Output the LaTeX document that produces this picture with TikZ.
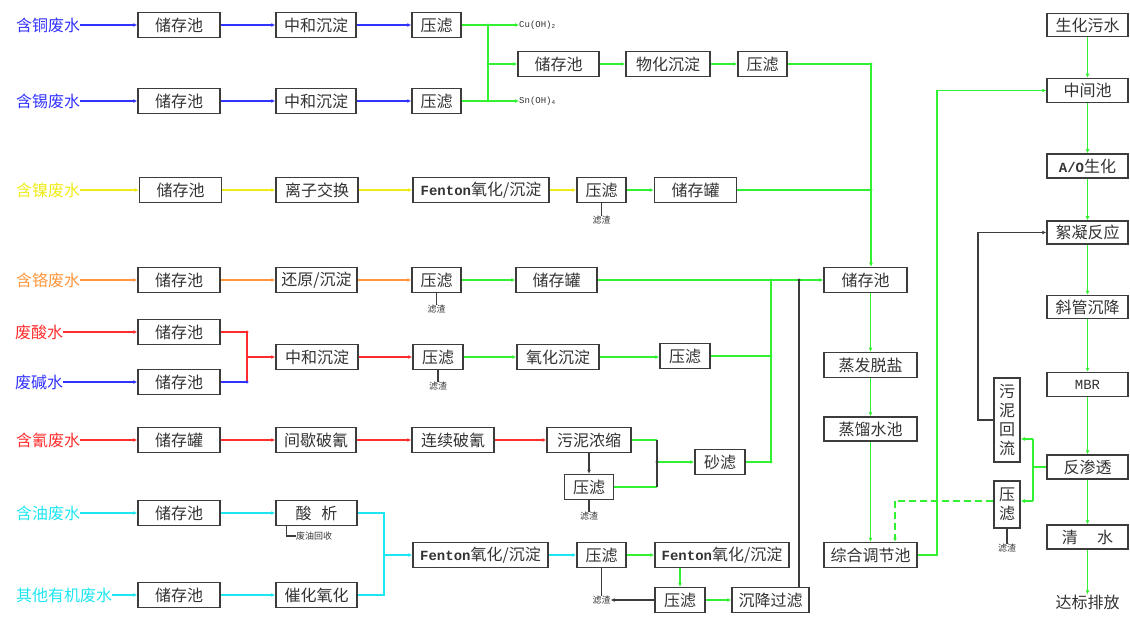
\documentclass[tikz,border=0pt]{standalone}
\usepackage{fontspec}
\setmainfont{Noto Sans CJK SC}
\newfontfamily\monof{Liberation Mono}
\usetikzlibrary{arrows.meta}
\definecolor{cblue}{RGB}{50,50,255}
\definecolor{cyel}{RGB}{240,235,20}
\definecolor{cora}{RGB}{255,150,60}
\definecolor{cred}{RGB}{255,45,45}
\definecolor{ccyan}{RGB}{30,230,240}
\definecolor{cgreen}{RGB}{50,240,50}
\definecolor{cdark}{RGB}{60,60,60}
\begin{document}
\begin{tikzpicture}[x=1pt,y=-1pt,
  box/.style={draw=cdark, line width=1.5pt, fill=white, inner sep=0pt, minimum height=25pt, text=black!80, font=\fontsize{16}{18}\selectfont},
  lbl/.style={anchor=west, inner sep=0pt, font=\fontsize{16}{18}\selectfont},
  tiny/.style={inner sep=0pt, font=\fontsize{9}{10}\selectfont, text=black!80},
  ln/.style={line width=1.4pt},
  arr/.style={ln, -{Latex[length=4pt,width=4pt]}},
  kl/.style={ln, draw=cdark},
  dot/.style={circle, inner sep=0pt, minimum size=3pt}]
\useasboundingbox (0,0) rectangle (1130,620);

% ---------- row 1 and 2 ----------
\node[lbl, text=cblue] (L1) at (16,25) {含铜废水};
\node[box, minimum width=82pt] (A1) at (179,25) {储存池};
\node[box, minimum width=80pt] (B1) at (316,25) {中和沉淀};
\node[box, minimum width=49pt] (C1) at (436.5,25) {压滤};
\node[tiny, anchor=west] (Cu) at (519,25) {\monof Cu(OH)\textsubscript{2}};
\node[lbl, text=cblue] (L2) at (16,101) {含锡废水};
\node[box, minimum width=82pt] (A2) at (179,101) {储存池};
\node[box, minimum width=80pt] (B2) at (316,101) {中和沉淀};
\node[box, minimum width=49pt] (C2) at (436.5,101) {压滤};
\node[tiny, anchor=west] (Sn) at (519,101) {\monof Sn(OH)\textsubscript{4}};
\coordinate (J1) at (488,25);
\coordinate (J2) at (488,101);
\coordinate (J3) at (488,64);
\node[box, minimum width=81pt] (D1) at (558.5,64) {储存池};
\node[box, minimum width=84pt] (E1) at (668,64) {物化沉淀};
\node[box, minimum width=49pt] (F1) at (762.5,64) {压滤};
\coordinate (K1) at (871,64);

\draw[arr, cblue] (L1) -- (A1);
\draw[arr, cblue] (A1) -- (B1);
\draw[arr, cblue] (B1) -- (C1);
\draw[arr, cblue] (L2) -- (A2);
\draw[arr, cblue] (A2) -- (B2);
\draw[arr, cblue] (B2) -- (C2);
\draw[ln, cgreen] (C1.east) -- (J1) -- (J2);
\draw[ln, cgreen] (C2.east) -- (J2);
\draw[arr, cgreen] (J1) -- (Cu.west);
\draw[arr, cgreen] (J2) -- (Sn.west);
\draw[arr, cgreen] (J3) -- (D1.west);
\draw[arr, cgreen] (D1) -- (E1);
\draw[arr, cgreen] (E1) -- (F1);
\draw[ln, cgreen] (F1.east) -- (K1);

% ---------- row 3 ----------
\node[lbl, text=cyel] (L3) at (16,190) {含镍废水};
\node[box, minimum width=82pt] (A3) at (180.5,190) {储存池};
\node[box, minimum width=82pt] (B3) at (317,190) {离子交换};
\node[box, minimum width=136pt] (C3) at (481,190) {{\monof\bfseries\fontsize{14}{16}\selectfont Fenton}氧化/沉淀};
\node[box, minimum width=49pt] (D3) at (601.5,190) {压滤};
\node[box, minimum width=82pt] (E3) at (695.5,190) {储存罐};
\node[tiny] (Z3) at (601.5,220) {滤渣};
\coordinate (K2) at (871,190);
\draw[arr, cyel] (L3) -- (A3);
\draw[arr, cyel] (A3) -- (B3);
\draw[arr, cyel] (B3) -- (C3);
\draw[arr, cyel] (C3) -- (D3);
\draw[arr, cgreen] (D3) -- (E3);
\draw[ln, cgreen] (E3.east) -- (K2);
\draw[kl] (D3.south) -- (Z3.north);

% ---------- row 4 ----------
\node[lbl, text=cora] (L4) at (16,280) {含铬废水};
\node[box, minimum width=82pt] (A4) at (179,280) {储存池};
\node[box, minimum width=81pt] (B4) at (316.5,280) {还原/沉淀};
\node[box, minimum width=49pt] (C4) at (436.5,280) {压滤};
\node[box, minimum width=81pt] (D4) at (556.5,280) {储存罐};
\node[tiny] (Z4) at (436.5,309) {滤渣};
\node[box, minimum width=83pt] (M1) at (865.5,280) {储存池};
\coordinate (K3) at (771,280);
\coordinate (K4) at (799,280);
\draw[arr, cora] (L4) -- (A4);
\draw[arr, cora] (A4) -- (B4);
\draw[arr, cora] (B4) -- (C4);
\draw[arr, cgreen] (C4) -- (D4);
\draw[arr, cgreen] (D4.east) -- (M1.west);
\draw[kl] (C4.south) -- (Z4.north);

% ---------- row 5 ----------
\node[lbl, text=cred] (L5a) at (15,332) {废酸水};
\node[box, minimum width=82pt] (A5a) at (179,332) {储存池};
\node[lbl, text=cblue] (L5b) at (15,382) {废碱水};
\node[box, minimum width=82pt] (A5b) at (179,382) {储存池};
\coordinate (J5a) at (247,332);
\coordinate (J5b) at (247,382);
\coordinate (J5c) at (247,357);
\node[box, minimum width=82pt] (B5) at (317,357) {中和沉淀};
\node[box, minimum width=50pt] (C5) at (438,357) {压滤};
\node[box, minimum width=82pt] (D5) at (558,357) {氧化沉淀};
\node[box, minimum width=50pt] (E5) at (685,356) {压滤};
\node[tiny] (Z5) at (438,386) {滤渣};
\coordinate (K5) at (771,356);
\draw[arr, cred] (L5a) -- (A5a);
\draw[arr, cblue] (L5b) -- (A5b);
\draw[ln, cred] (A5a.east) -- (J5a) -- (J5b);
\draw[ln, cblue] (A5b.east) -- (J5b);
\draw[arr, cred] (J5c) -- (B5.west);
\draw[arr, cred] (B5) -- (C5);
\draw[arr, cgreen] (C5) -- (D5);
\draw[arr, cgreen] (D5.east) -- (E5.west |- D5.east);
\draw[ln, cgreen] (E5.east) -- (K5);
\draw[kl] (C5.south) -- (Z5.north);

% ---------- row 6 ----------
\node[lbl, text=cred] (L6) at (16,440) {含氰废水};
\node[box, minimum width=82pt] (A6) at (179,440) {储存罐};
\node[box, minimum width=80pt] (B6) at (316,440) {间歇破氰};
\node[box, minimum width=82pt] (C6) at (453,440) {连续破氰};
\node[box, minimum width=84pt] (D6) at (589,440) {污泥浓缩};
\node[box, minimum width=49pt] (E6) at (589,487) {压滤};
\node[box, minimum width=50pt] (F6) at (720,462) {砂滤};
\node[tiny] (Z6) at (589,516) {滤渣};
\coordinate (K6) at (657,440);
\coordinate (K7) at (657,487);
\coordinate (K8) at (657,462);
\coordinate (K9) at (771,462);
\draw[arr, cred] (L6) -- (A6);
\draw[arr, cred] (A6) -- (B6);
\draw[arr, cred] (B6) -- (C6);
\draw[arr, cred] (C6) -- (D6);
\draw[ln, cgreen] (D6.east) -- (K6);
\draw[ln, cgreen] (E6.east) -- (K7);
\draw[kl] (K6) -- (K7);
\draw[arr, cgreen] (K8) -- (F6.west);
\draw[ln, cgreen] (F6.east) -- (K9);
\draw[kl, -{Latex[length=4pt,width=4pt]}] (D6.south) -- (E6.north);
\draw[kl] (E6.south) -- (Z6.north);
\draw[ln, cgreen] (K9) -- (K5) -- (K3);

% ---------- row 7 and 8 ----------
\node[lbl, text=ccyan] (L7) at (16,513) {含油废水};
\node[box, minimum width=82pt] (A7) at (179,513) {储存池};
\node[box, minimum width=81pt] (B7) at (316.5,513) {酸\hspace{0.6em}析};
\node[tiny, anchor=west] (oil) at (296,536) {废油回收};
\node[lbl, text=ccyan] (L8) at (16,595) {其他有机废水};
\node[box, minimum width=82pt] (A8) at (179,595) {储存池};
\node[box, minimum width=81pt] (B8) at (316.5,595) {催化氧化};
\coordinate (K10) at (384,513);
\coordinate (K11) at (384,595);
\coordinate (K12) at (384,555);
\node[box, minimum width=135pt] (C7) at (480.5,555) {{\monof\bfseries\fontsize{14}{16}\selectfont Fenton}氧化/沉淀};
\node[box, minimum width=49pt] (D7) at (601.5,555) {压滤};
\node[box, minimum width=134pt] (E7) at (722,555) {{\monof\bfseries\fontsize{14}{16}\selectfont Fenton}氧化/沉淀};
\node[box, minimum width=50pt] (F7) at (680,600) {压滤};
\node[box, minimum width=77pt] (G7) at (770.5,600) {沉降过滤};
\node[tiny] (Z7) at (601.5,600) {滤渣};
\draw[arr, ccyan] (L7) -- (A7);
\draw[arr, ccyan] (A7) -- (B7);
\draw[ln, ccyan] (B7.east) -- (K10) -- (K11);
\draw[arr, ccyan] (L8) -- (A8);
\draw[arr, ccyan] (A8) -- (B8);
\draw[ln, ccyan] (B8.east) -- (K11);
\draw[arr, ccyan] (K12) -- (C7.west);
\draw[arr, ccyan] (C7) -- (D7);
\draw[arr, cgreen] (D7) -- (E7);
\draw[arr, cgreen] (E7.south -| F7.north) -- (F7.north);
\draw[arr, cgreen] (F7) -- (G7);
\draw[kl] (D7.south) -- (Z7.north);
\draw[kl, -{Latex[length=4pt,width=4pt]}] (F7.west) -- (Z7.east);
\draw[kl] (B7.south west) ++(11,0) |- (oil.west);
\draw[kl] (K4 |- G7.north) -- (K4);

% ---------- middle column ----------
\node[box, minimum width=93pt] (M2) at (870.5,365) {蒸发脱盐};
\node[box, minimum width=93pt, minimum height=24pt] (M3) at (870.5,429) {蒸馏水池};
\node[box, minimum width=93pt] (M4) at (870.5,555) {综合调节池};
\draw[ln, cgreen] (K1) -- (K2);
\draw[arr, cgreen] (K2) -- (K1 |- M1.north);
\draw[arr, cgreen] (M1.south -| M2.north) -- (M2.north);
\draw[arr, cgreen] (M2) -- (M3);
\draw[arr, cgreen] (M3) -- (M4);
\coordinate (Q1) at (937,555);
\coordinate (Q2) at (937,90.5);

% ---------- right column ----------
\node[box, minimum width=81pt, minimum height=23pt] (R1) at (1087.5,25) {生化污水};
\node[box, minimum width=81pt, minimum height=24pt] (R2) at (1087.5,90.5) {中间池};
\node[box, minimum width=81pt, minimum height=24pt] (R3) at (1087.5,166) {{\monof\bfseries\fontsize{14}{16}\selectfont A/O}生化};
\node[box, minimum width=81pt, minimum height=23pt] (R4) at (1087.5,232.5) {絮凝反应};
\node[box, minimum width=81pt, minimum height=23pt] (R5) at (1087.5,307) {斜管沉降};
\node[box, minimum width=81pt, minimum height=24pt] (R6) at (1087.5,384.5) {{\monof\fontsize{14}{16}\selectfont MBR}};
\node[box, minimum width=81pt, minimum height=24pt] (R7) at (1087.5,467) {反渗透};
\node[box, minimum width=81pt, minimum height=24pt] (R8) at (1087.5,537) {清\hspace{1.2em}水};
\node[inner sep=0pt, text=black!80, font=\fontsize{16}{18}\selectfont] (R9) at (1087.5,602) {达标排放};
\draw[arr, cgreen] (R1) -- (R2);
\draw[arr, cgreen] (R2) -- (R3);
\draw[arr, cgreen] (R3) -- (R4);
\draw[arr, cgreen] (R4) -- (R5);
\draw[arr, cgreen] (R5) -- (R6);
\draw[arr, cgreen] (R6) -- (R7);
\draw[arr, cgreen] (R7) -- (R8);
\draw[arr, cgreen] (R8) -- (R9);
\draw[ln, cgreen] (M4.east) -- (Q1) -- (Q2);
\draw[arr, cgreen] (Q2) -- (R2.west);

% sludge return / press
\node[box, minimum width=26pt, minimum height=84pt, align=center, font=\fontsize{16}{19}\selectfont] (S1) at (1007,420) {污\\泥\\回\\流};
\node[box, minimum width=26pt, minimum height=47pt, align=center, font=\fontsize{16}{19}\selectfont] (S2) at (1007,504.5) {压\\滤};
\node[tiny] (ZS) at (1007,548) {滤渣};
\coordinate (T1) at (1033,439);
\coordinate (T2) at (1033,501);
\coordinate (T3) at (1033,467);
\coordinate (U1) at (978,420);
\coordinate (U2) at (978,232.5);
\coordinate (P1) at (895,501);
\draw[ln, cgreen] (R7.west) -- (T3);
\draw[ln, cgreen] (T1) -- (T2);
\draw[arr, cgreen] (T1) -- (T1 -| S1.east);
\draw[arr, cgreen] (T2) -- (T2 -| S2.east);
\draw[kl] (S1.west) -- (U1) -- (U2);
\draw[kl, -{Latex[length=4pt,width=4pt]}] (U2) -- (R4.west);
\draw[ln, cgreen, dashed, dash pattern=on 7pt off 4pt] (P1 -| S2.west) -- (P1);
\draw[arr, cgreen, dashed, dash pattern=on 7pt off 4pt] (P1) -- (P1 |- M4.north);
\draw[kl] (S2.south) -- (ZS.north);

% junction dots
\foreach \p in {J1,J2,J3,K1,K2,K3,K5,K9} \fill[cgreen] (\p) circle (1.6pt);
\foreach \p in {K4,K8} \fill[cdark] (\p) circle (1.6pt);
\fill[cred] (J5a) circle (1.6pt);
\fill[cblue] (J5b) circle (1.6pt);
\fill[ccyan] (K10) circle (1.4pt);
\fill[ccyan] (K11) circle (1.4pt);
\end{tikzpicture}
\end{document}
